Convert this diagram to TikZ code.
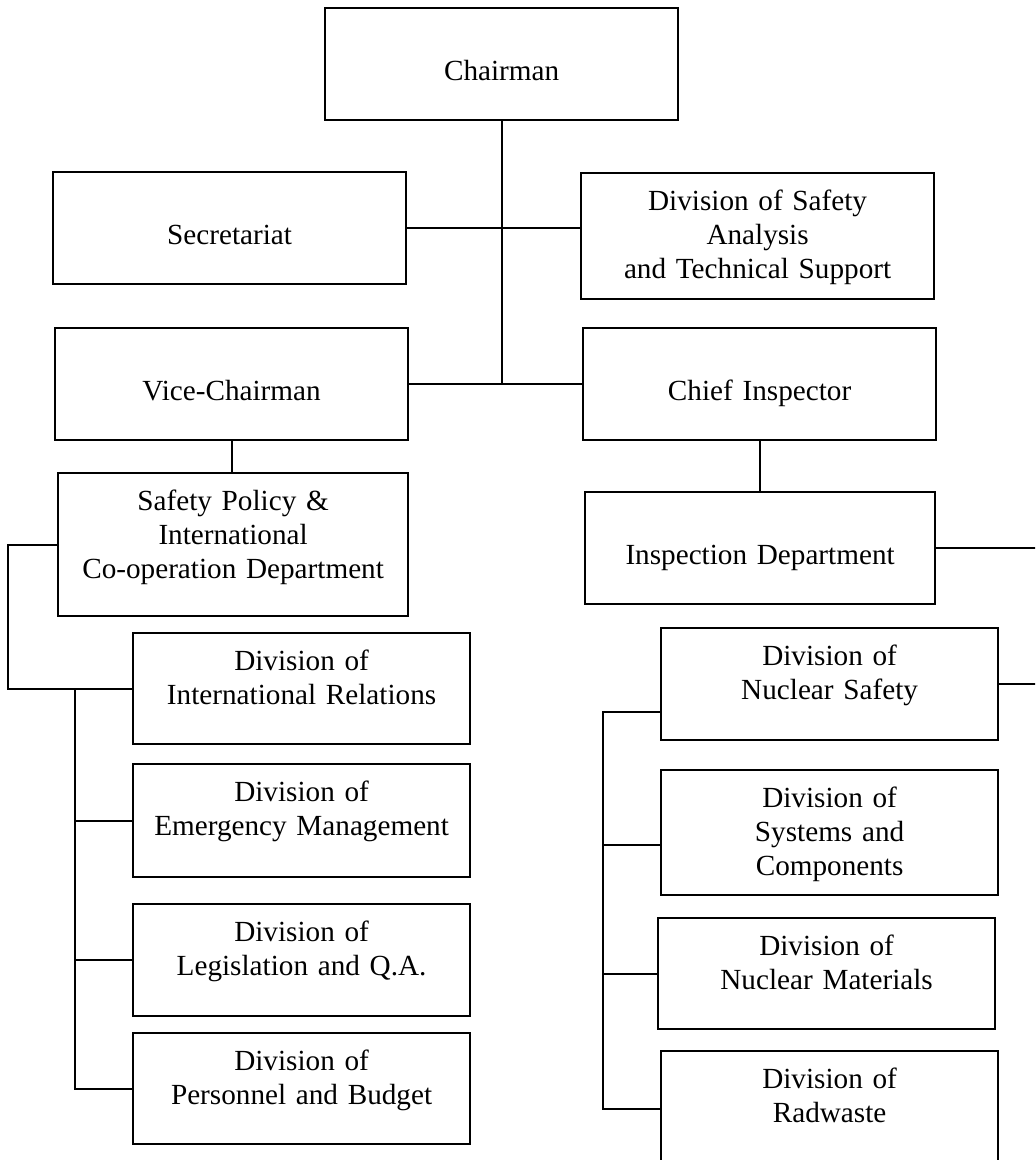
\documentclass[tikz,border=0pt]{standalone}
\usepackage{fontspec}
\setmainfont{Liberation Serif}
\usetikzlibrary{calc}
\tikzset{
	box/.style={draw,line width=1.1pt,inner sep=0pt,anchor=north west,align=center,font=\fontsize{14.6}{17}\selectfont},
	wide/.style={text width=176.5pt},
	mid/.style={text width=175pt},
	narrow/.style={text width=168.5pt},
	single/.style={text height=36pt,text depth=20pt},
	multi/.style={text height=18.5pt,text depth=#1},
	link/.style={line width=1.1pt}
}
\begin{document}
\begin{tikzpicture}[line cap=butt,line join=miter,x=0.5pt,y=-0.5pt]
		\clip (0,0) rectangle (1035,1160);
		\node[box,wide,single] (chair) at (324,7) {Chairman};
		\node[box,wide,single] (secr) at (52,171) {Secretariat};
		\node[box,wide,multi=44.5pt] (dsats) at (580,172) {Division of Safety\\Analysis\\and Technical Support};
		\node[box,wide,single] (vice) at (54,327) {Vice-Chairman};
		\node[box,wide,single] (chief) at (582,327) {Chief Inspector};
		\node[box,mid,multi=53pt] (spicd) at (57,472) {Safety Policy \&\\International\\Co-operation Department};
		\node[box,mid,single] (insp) at (584,491) {Inspection Department};
		\node[box,narrow,multi=37pt] (dintl) at (132,632) {Division of\\International Relations};
		\node[box,narrow,multi=38pt] (demg) at (132,763) {Division of\\Emergency Management};
		\node[box,narrow,multi=37.5pt] (dleg) at (132,903) {Division of\\Legislation and Q.A.};
		\node[box,narrow,multi=37pt] (dpers) at (132,1032) {Division of\\Personnel and Budget};
		\node[box,narrow,multi=37.5pt] (dnsaf) at (660,627) {Division of\\Nuclear Safety};
		\node[box,narrow,multi=44pt] (dsys) at (660,769) {Division of\\Systems and\\Components};
		\node[box,narrow,multi=37pt] (dnmat) at (657,917) {Division of\\Nuclear Materials};
		\node[box,narrow,multi=39.5pt] (drad) at (660,1050) {Division of\\Radwaste};
		\coordinate (lbus) at (75,0);
		\coordinate (rbus) at (603,0);
		\coordinate (redge) at (1040,0);
		\coordinate (nsafin) at ([yshift=-14pt]dnsaf.west);
		\coordinate (sysin) at ([yshift=-6.25pt]dsys.west);
		\draw[link] (chair.south) -- (chair.south |- vice.east);
		\draw[link] (secr.east) -- (secr.east -| dsats.west);
		\draw[link] (vice.east) -- (chief.west);
		\draw[link] (vice.south) -- (vice.south |- spicd.north);
		\draw[link] (chief.south) -- (chief.south |- insp.north);
		\draw[link] (insp.east) -- (insp.east -| redge);
		\draw[link] (dnsaf.east) -- (dnsaf.east -| redge);
		\draw[link] (spicd.west) -- ++(-49,0) |- (dintl.west);
		\draw[link] (lbus |- dintl.west) -- (lbus |- dpers.west) -- (dpers.west);
		\foreach \n in {demg,dleg}
			\draw[link] (lbus |- \n.west) -- (\n.west);
		\draw[link] (nsafin) -| (rbus |- drad.west) -- (drad.west);
		\draw[link] (sysin) -- (rbus |- sysin);
		\draw[link] (dnmat.west) -- (rbus |- dnmat.west);
	\end{tikzpicture}
\end{document}
